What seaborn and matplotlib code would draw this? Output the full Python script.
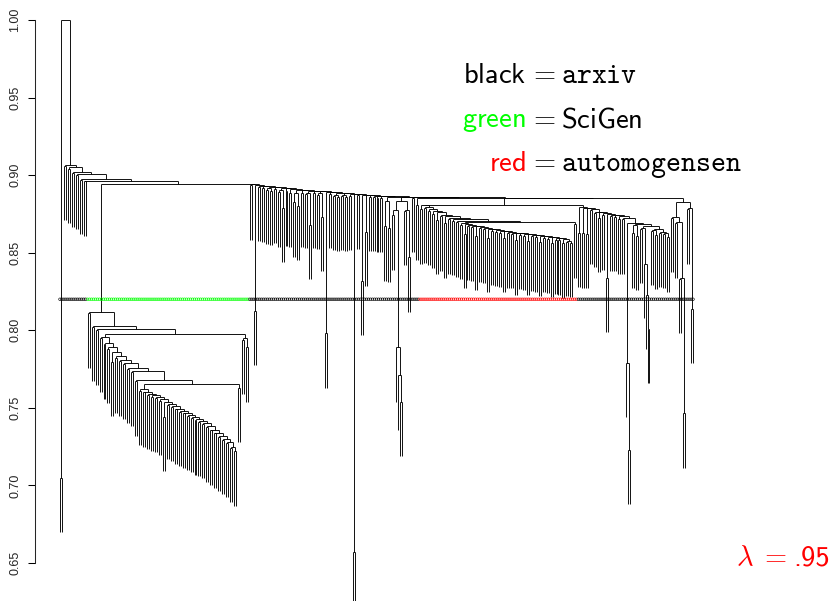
import matplotlib
matplotlib.use("Agg")
import matplotlib.pyplot as plt
from matplotlib.collections import LineCollection
import seaborn as sns
import pandas as pd


def ladder(heights, units, last):
    # chain of merges: each step joins one unit on the left to the rest
    node = last
    for h, u in zip(heights[::-1], units[::-1]):
        node = [h, u, node]
    return node


# tree values: a float is a pair of leaves merged at that height,
# 'k' a single leaf, [h, left, right] an inner node, (group, subtree) a labelled part
root_height = 1.0
left_pair = 0.705
top_heights = [0.9065, 0.905, 0.902, 0.9005, 0.8975, 0.8965]
top_units = [0.906, 0.904, 0.9015, 0.900, 0.897, 0.896]
split_height = 0.8945

# SciGen cluster
sg_top_heights = [0.812, 0.803, 0.801]
sg_top_units = [0.811, 0.802, 0.800]
sg_mid_height = 0.7976
sg_tail = [0.795, 0.794, 0.789]
sg_ladder_heights = [0.7957, 0.792, 0.789, 0.786, 0.7834, 0.781, 0.779, 0.7757, 0.7737]
sg_ladder_units = [0.795, 0.791, 0.788, 0.7795, 0.782, 0.780, 0.778, 0.775, 0.773]
sg_fan_heights = [0.762, 0.7605, 0.759, 0.758, 0.757, 0.7555, 0.754, 0.7525, 0.7515,
                  0.7495, 0.748, 0.747, 0.7455, 0.744, 0.7425, 0.7415, 0.740, 0.738, 0.736,
                  0.734, 0.732, 0.730, 0.728]
sg_fan_units = [0.761, 0.760, 0.7585, 0.757, 0.7565, 0.7545, 0.744, 0.752, 0.7505,
                0.749, 0.7475, 0.7465, 0.745, 0.7435, 0.742, 0.741, 0.7395, 0.7375, 0.7355,
                0.7335, 0.7315, 0.7295, 0.7275]
sg_fan_end = [0.7248, 0.724, 0.722]

# arxiv staircase on the right
arx_heights = [0.8940, 0.8937, 0.8933, 0.8929, 0.8925, 0.8921, 0.8917, 0.8914, 0.8911, 0.8907,
               0.8904, 0.8901, 0.8898, 0.8895, 0.8892, 0.8889, 0.8886, 0.8883, 0.8881, 0.8879,
               0.8876, 0.8874, 0.8872, 0.8869, 0.8867, 0.8865, 0.8863, 0.8861, 0.8859, 0.8857,
               0.8855]
arx_units = [0.8935, 0.8124, 0.8925, 0.892, [0.8918, 0.8905, 0.890], 0.8912,
             [0.8905, 0.889, 0.879], 0.8895, 0.8888, [0.8885, 0.8825, 0.880], 0.8885,
             [0.8885, 0.888, 0.868], 0.8882, [0.8885, 0.8875, 0.873], 0.798, 0.8878,
             [0.8872, 0.8866, 0.8858], [0.8874, 0.8868, 0.886], 0.8866, 0.657, 0.8872,
             0.832, 0.8635, 0.8862, 0.8858, 0.8855, 0.8852, [0.8832, 0.867, 0.866],
             [0.8833, [0.8775, 0.874, [0.789, 'k', [0.771, 'k', 0.754]]], [0.8775, 0.877, 0.847]],
             0.8855, 0.8805]

# automogensen cluster
red_heights = [0.8805, 0.8795, 0.878, 0.877, 0.876, 0.8745, 0.8735, 0.8725, 0.8715, 0.8705]
red_units = [0.878, 0.8785, 0.877, 0.875, 0.871, 0.8735, 0.869, 0.8715, 0.8705, 0.8695]
red_join = [0.8695, 0.8685]
red2_heights = [0.869, 0.8685, 0.868, 0.8675, 0.867, 0.8665, 0.866, 0.8655, 0.865, 0.8645,
                0.864, 0.8637, 0.8633, 0.863, 0.8627, 0.8624, 0.8621, 0.8618, 0.8615, 0.8612,
                0.8609, 0.8606, 0.8603, 0.860, 0.8597, 0.8594, 0.859]
red2_units = [0.868, 0.862, 0.8675, 0.8665, 0.861, 0.866, 0.8655, 0.8595, 0.864, 0.8635,
              0.863, 0.8595, 0.8625, 0.862, 0.858, 0.8615, 0.861, 0.8575, 0.8605, 0.860,
              0.857, 0.8595, 0.859, 0.8565, 0.8585, 0.858, 0.856]
red2_end = [0.8574, 0.857, 0.8565]

# arxiv block right of the red cluster
rc_heights = [0.8795, 0.879, 0.8785, 0.878, 0.8765, 0.876, 0.8755, 0.875, 0.8745, 0.874,
              0.8735, 0.8725]
rc_units = [0.863, 0.8625, 0.862, 0.8775, 0.8755, 0.8725, 0.874, 0.834, 0.8735, 0.873,
            0.8715, 0.8715]
rc_end = [0.869, [0.779, 'k', 0.723],
          [0.8685, [0.868, 0.8625, 0.861],
           [0.8675, [0.866, 0.8655, [0.843, 'k', [0.823, 'k', 0.801]]],
            [0.865, [0.8645, 0.864, 0.8615], [0.8635, 0.863, [0.8625, 0.862, 0.860]]]]]]
far_right = [0.883, [0.873, 0.8725, [0.870, 0.869, [0.834, 0.833, 0.7465]]],
             [0.879, 0.878, 0.814]]
y_height = 0.881
z_height = 0.885

HANG = 0.035
MARKER_Y = 0.82
y_ticks = [0.65, 0.70, 0.75, 0.80, 0.85, 0.90, 0.95, 1.00]

sg_tree = ladder(sg_top_heights, sg_top_units,
                 [sg_mid_height,
                  ladder(sg_ladder_heights, sg_ladder_units,
                         [0.768, 0.767, [0.7654, ladder(sg_fan_heights, sg_fan_units, sg_fan_end), 0.763]]),
                  sg_tail])
red_tree = ladder(red_heights, red_units,
                  [red_join[0], ladder(red2_heights, red2_units, red2_end), red_join[1]])
rc_tree = ladder(rc_heights, rc_units, rc_end)
right_tree = ladder(arx_heights, arx_units,
                    [z_height, [y_height, ("automogensen", red_tree), rc_tree], far_right])
tree = [root_height, left_pair,
        ladder(top_heights, top_units, [split_height, ("SciGen", sg_tree), right_tree])]

segs = []
leaf_groups = []


def place(node, group):
    if isinstance(node, tuple):
        return place(node[1], node[0])
    if isinstance(node, str):
        leaf_groups.append(group)
        return len(leaf_groups) - 1, None
    if isinstance(node, float):
        node = [node, 'k', 'k']
    h, a, b = node
    xa, ha = place(a, group)
    xb, hb = place(b, group)
    segs.append([(xa, h), (xb, h)])
    for xc, hc in ((xa, ha), (xb, hb)):
        segs.append([(xc, h), (xc, h - HANG if hc is None else hc)])
    return (xa + xb) / 2, h


place(tree, "arxiv")
n = len(leaf_groups)

sns.set_style("white")
plt.rcParams["font.family"] = ["Liberation Sans", "DejaVu Sans"]
plt.rcParams["mathtext.fontset"] = "cm"

fig = plt.figure(figsize=(8.33, 6.01), dpi=100)
ax = fig.add_axes([0, 0, 1, 1])
ax.add_collection(LineCollection(segs, colors="black", linewidths=0.65))

df = pd.DataFrame({"pos": range(n), "height": MARKER_Y, "source": leaf_groups})
palette = {"arxiv": "black", "SciGen": "#00ff00", "automogensen": "red"}
sns.scatterplot(data=df, x="pos", y="height", hue="source", palette=palette,
                s=3.5, marker="o", linewidth=0.45, legend=False, ax=ax, zorder=3)
pts = ax.collections[-1]
pts.set_edgecolors(pts.get_facecolors())
pts.set_facecolors("none")

# leaves run from x=60px to x=693px, heights 1.0 at y=20px and 0.65 at y=563px
step = 633 / (n - 1)
ax.set_xlim(-60 / step, 773 / step)
per_px = 0.35 / 543
ax.set_ylim(1.0 - 581 * per_px, 1.0 + 20 * per_px)

for side in ["top", "right", "bottom"]:
    ax.spines[side].set_visible(False)
ax.spines["left"].set_position(("axes", 35 / 833))
ax.spines["left"].set_bounds(0.65, 1.0)
ax.spines["left"].set_linewidth(0.75)
ax.set_xticks([])
ax.set_yticks(y_ticks)
ax.set_yticklabels([f"{t:.2f}" for t in y_ticks], rotation=90, va="center", fontsize=9)
ax.tick_params(axis="y", left=True, length=5, width=0.75, pad=5, color="black")
ax.set_xlabel("")
ax.set_ylabel("")

fs = 20.5
rows = [("black", "black", r"$=\mathtt{arxiv}$", 83),
        ("green", "#00ff00", r"$=\mathsf{SciGen}$", 127),
        ("red", "red", r"$=\mathtt{automogensen}$", 171)]
for word, col, rest, base in rows:
    fig.text(526 / 833, 1 - base / 601, r"$\mathsf{" + word + "}$", color=col,
             fontsize=fs, ha="right", va="baseline")
    fig.text(529 / 833, 1 - base / 601, rest, color="black",
             fontsize=fs, ha="left", va="baseline")
fig.text(787 / 833, 1 - 566 / 601, r"$\lambda\;=$", color="red",
         fontsize=fs, ha="right", va="baseline")
fig.text(830 / 833, 1 - 566 / 601, ".95", color="red", family="cmss10",
         fontsize=fs, ha="right", va="baseline")

fig.savefig("out.png", dpi=100)
plt.close(fig)
